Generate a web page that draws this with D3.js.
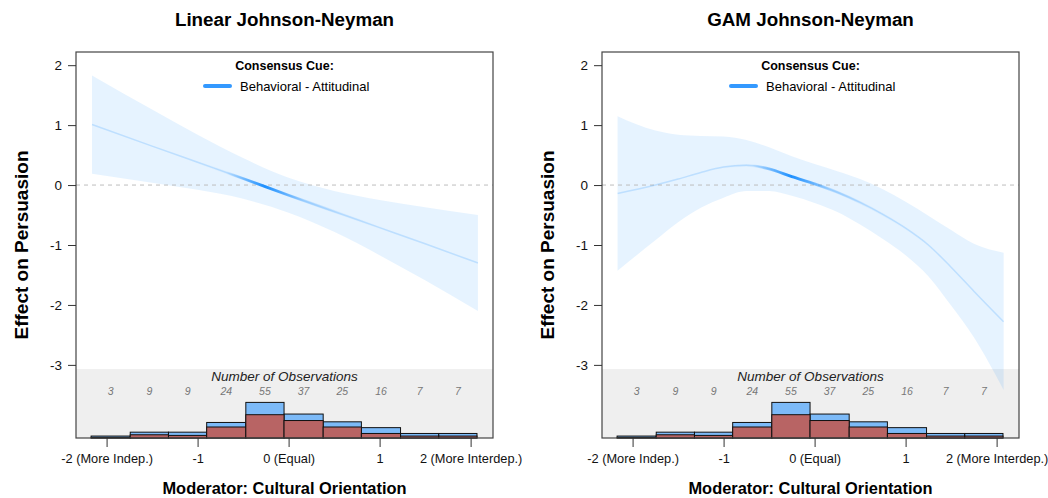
<!DOCTYPE html>
<html>
<head>
<meta charset="utf-8">
<script src="https://cdn.jsdelivr.net/npm/d3@7"></script>
<style>
  body { margin: 0; background: #fff; }
  text { font-family: "Liberation Sans", Arial, Helvetica, sans-serif; }
</style>
</head>
<body>
<div id="vis"></div>
<script>
// histogram of the moderator (shared by both panels)
var moderatorBreaks = [-2.17, -1.74, -1.32, -0.90, -0.47, -0.05, 0.38, 0.80, 1.23, 1.65, 2.07];
var obsCounts = [3, 9, 9, 24, 55, 37, 25, 16, 7, 7];
var obsCountsLower = [1, 5, 4, 17, 36, 27, 17, 7, 3, 3];

// linear Johnson-Neyman estimate + 95% band
var linearX = [-2.16, -1.5, -1, -0.5, 0, 0.5, 1, 1.5, 2.08];
var linearEst = [1.01, 0.65, 0.38, 0.11, -0.17, -0.44, -0.71, -0.98, -1.30];
var linearUpper = [1.83, 1.26, 0.84, 0.45, 0.12, -0.10, -0.25, -0.37, -0.50];
var linearLower = [0.19, 0.04, -0.08, -0.23, -0.46, -0.78, -1.17, -1.59, -2.10];

// GAM Johnson-Neyman estimate + 95% band
var gamX = [-2.165, -1.75, -1.5, -1.25, -1, -0.75, -0.5, -0.25, 0, 0.25, 0.5, 0.75, 1, 1.25, 1.5, 1.75, 2.077];
var gamEst = [-0.14, 0.0, 0.10, 0.21, 0.30, 0.33, 0.27, 0.14, 0.02, -0.12, -0.29, -0.49, -0.72, -1.0, -1.37, -1.77, -2.28];
var gamUpper = [1.15, 0.91, 0.84, 0.82, 0.81, 0.75, 0.63, 0.48, 0.35, 0.23, 0.10, -0.07, -0.28, -0.51, -0.75, -0.98, -1.13];
var gamLower = [-1.43, -0.92, -0.62, -0.38, -0.21, -0.10, -0.10, -0.18, -0.30, -0.45, -0.66, -0.90, -1.17, -1.52, -2.01, -2.54, -3.42];

var yTicks = [-3, -2, -1, 0, 1, 2];
var xTicks = [-2, -1, 0, 1, 2];
var xTickLabels = ["-2 (More Indep.)", "-1", "0 (Equal)", "1", "2 (More Interdep.)"];

var W = 1048, H = 498;
var box = { left: 76, right: 493, top: 52, bottom: 438 };
var panelOffset = 526;
var blue = "#1e90ff";

var x = d3.scaleLinear().domain([-2.336, 2.246]).range([box.left, box.right]);
var y = d3.scaleLinear().domain([-4.22, 2.22]).range([box.bottom, box.top]);
var histY = d3.scaleLinear().domain([0, 55]).range([box.bottom, box.bottom - 35.6]);

var svg = d3.select("#vis").append("svg")
    .attr("width", W)
    .attr("height", H);

function drawPanel(idx, title, xs, est, upper, lower) {
    var g = svg.append("g").attr("transform", "translate(" + (idx * panelOffset) + ",0)");
    var cx = (box.left + box.right) / 2;

    // gray strip for the histogram
    g.append("rect")
        .attr("x", box.left).attr("y", y(-3.07))
        .attr("width", box.right - box.left)
        .attr("height", box.bottom - y(-3.07))
        .attr("fill", "#efefef");

    var pts = xs.map(function(d, i) { return { x: d, e: est[i], u: upper[i], l: lower[i] }; });

    // confidence band
    g.append("path")
        .datum(pts)
        .attr("fill", blue)
        .attr("fill-opacity", 0.11)
        .attr("d", d3.area()
            .x(function(d) { return x(d.x); })
            .y0(function(d) { return y(d.l); })
            .y1(function(d) { return y(d.u); })
            .curve(d3.curveMonotoneX));

    // zero line
    g.append("line")
        .attr("x1", box.left).attr("x2", box.right)
        .attr("y1", y(0)).attr("y2", y(0))
        .attr("stroke", "#bdbdbd")
        .attr("stroke-dasharray", "4,4");

    // estimate: faint line + overlay whose opacity follows the observation density
    var line = d3.line()
        .x(function(d) { return x(d.x); })
        .y(function(d) { return y(d.e); })
        .curve(d3.curveMonotoneX);

    var gradId = "dens" + idx;
    var grad = svg.append("defs").append("linearGradient")
        .attr("id", gradId)
        .attr("gradientUnits", "userSpaceOnUse")
        .attr("x1", x(moderatorBreaks[0])).attr("x2", x(moderatorBreaks[moderatorBreaks.length - 1]))
        .attr("y1", 0).attr("y2", 0);
    var span = moderatorBreaks[moderatorBreaks.length - 1] - moderatorBreaks[0];
    obsCounts.forEach(function(c, i) {
        var mid = (moderatorBreaks[i] + moderatorBreaks[i + 1]) / 2;
        grad.append("stop")
            .attr("offset", (mid - moderatorBreaks[0]) / span)
            .attr("stop-color", blue)
            .attr("stop-opacity", Math.pow(c / 55, 3.5));
    });

    g.append("path").datum(pts)
        .attr("fill", "none")
        .attr("stroke", blue)
        .attr("stroke-opacity", 0.2)
        .attr("stroke-width", 1.5)
        .attr("d", line);
    g.append("path").datum(pts)
        .attr("fill", "none")
        .attr("stroke", "url(#" + gradId + ")")
        .attr("stroke-width", 2.8)
        .attr("d", line);

    // histogram: total (blue) with lower part (red)
    var bins = obsCounts.map(function(c, i) {
        return { x0: moderatorBreaks[i], x1: moderatorBreaks[i + 1], n: c, r: obsCountsLower[i] };
    });
    g.selectAll(".barTotal").data(bins).enter().append("rect")
        .attr("class", "barTotal")
        .attr("x", function(d) { return x(d.x0); })
        .attr("width", function(d) { return x(d.x1) - x(d.x0); })
        .attr("y", function(d) { return histY(d.n); })
        .attr("height", function(d) { return box.bottom - histY(d.n); })
        .attr("fill", "#7cbaf8")
        .attr("stroke", "#111")
        .attr("stroke-width", 1);
    g.selectAll(".barLower").data(bins).enter().append("rect")
        .attr("class", "barLower")
        .attr("x", function(d) { return x(d.x0); })
        .attr("width", function(d) { return x(d.x1) - x(d.x0); })
        .attr("y", function(d) { return histY(d.r); })
        .attr("height", function(d) { return box.bottom - histY(d.r); })
        .attr("fill", "#b86464")
        .attr("stroke", "#111")
        .attr("stroke-width", 1);

    g.selectAll(".nobs").data(bins).enter().append("text")
        .attr("x", function(d) { return x((d.x0 + d.x1) / 2); })
        .attr("y", 395)
        .attr("text-anchor", "middle")
        .attr("font-size", "10.5px")
        .attr("font-style", "italic")
        .attr("fill", "#777")
        .text(function(d) { return d.n; });

    g.append("text")
        .attr("x", cx).attr("y", 380.5)
        .attr("text-anchor", "middle")
        .attr("font-size", "13.5px")
        .attr("font-style", "italic")
        .attr("fill", "#222")
        .text("Number of Observations");

    // frame
    g.append("rect")
        .attr("x", box.left).attr("y", box.top)
        .attr("width", box.right - box.left)
        .attr("height", box.bottom - box.top)
        .attr("fill", "none")
        .attr("stroke", "#444")
        .attr("stroke-width", 1.2);

    // axes
    var yAxis = d3.axisLeft(y).tickValues(yTicks).tickSize(8).tickPadding(6)
        .tickFormat(function(d) { return String(d); });
    var ya = g.append("g").attr("transform", "translate(" + box.left + ",0)").call(yAxis);
    ya.select(".domain").remove();
    ya.selectAll("line").attr("stroke", "#333");
    ya.selectAll("text").attr("font-size", "13.5px").attr("fill", "#111")
        .style("font-family", "'Liberation Sans', Arial, sans-serif");

    var xAxis = d3.axisBottom(x).tickValues(xTicks).tickSize(9).tickPadding(7)
        .tickFormat(function(d, i) { return xTickLabels[i]; });
    var xa = g.append("g").attr("transform", "translate(0," + box.bottom + ")").call(xAxis);
    xa.select(".domain").remove();
    xa.selectAll("line").attr("stroke", "#333");
    xa.selectAll("text").attr("font-size", "12.8px").attr("fill", "#111")
        .style("font-family", "'Liberation Sans', Arial, sans-serif");

    // titles
    g.append("text")
        .attr("x", cx).attr("y", 26)
        .attr("text-anchor", "middle")
        .attr("font-size", "18.8px")
        .attr("font-weight", "bold")
        .text(title);

    g.append("text")
        .attr("x", cx).attr("y", 494)
        .attr("text-anchor", "middle")
        .attr("font-size", "16.4px")
        .attr("font-weight", "bold")
        .text("Moderator: Cultural Orientation");

    g.append("text")
        .attr("transform", "translate(28," + ((box.top + box.bottom) / 2) + ") rotate(-90)")
        .attr("text-anchor", "middle")
        .attr("font-size", "19px")
        .attr("font-weight", "bold")
        .text("Effect on Persuasion");

    // legend
    g.append("text")
        .attr("x", cx).attr("y", 70)
        .attr("text-anchor", "middle")
        .attr("font-size", "12.5px")
        .attr("font-weight", "bold")
        .text("Consensus Cue:");
    g.append("line")
        .attr("x1", 205).attr("x2", 230)
        .attr("y1", 86).attr("y2", 86)
        .attr("stroke", "#3399ff")
        .attr("stroke-width", 4)
        .attr("stroke-linecap", "round");
    g.append("text")
        .attr("x", 240).attr("y", 90.5)
        .attr("font-size", "13px")
        .text("Behavioral - Attitudinal");
}

drawPanel(0, "Linear Johnson-Neyman", linearX, linearEst, linearUpper, linearLower);
drawPanel(1, "GAM Johnson-Neyman", gamX, gamEst, gamUpper, gamLower);
</script>
</body>
</html>
